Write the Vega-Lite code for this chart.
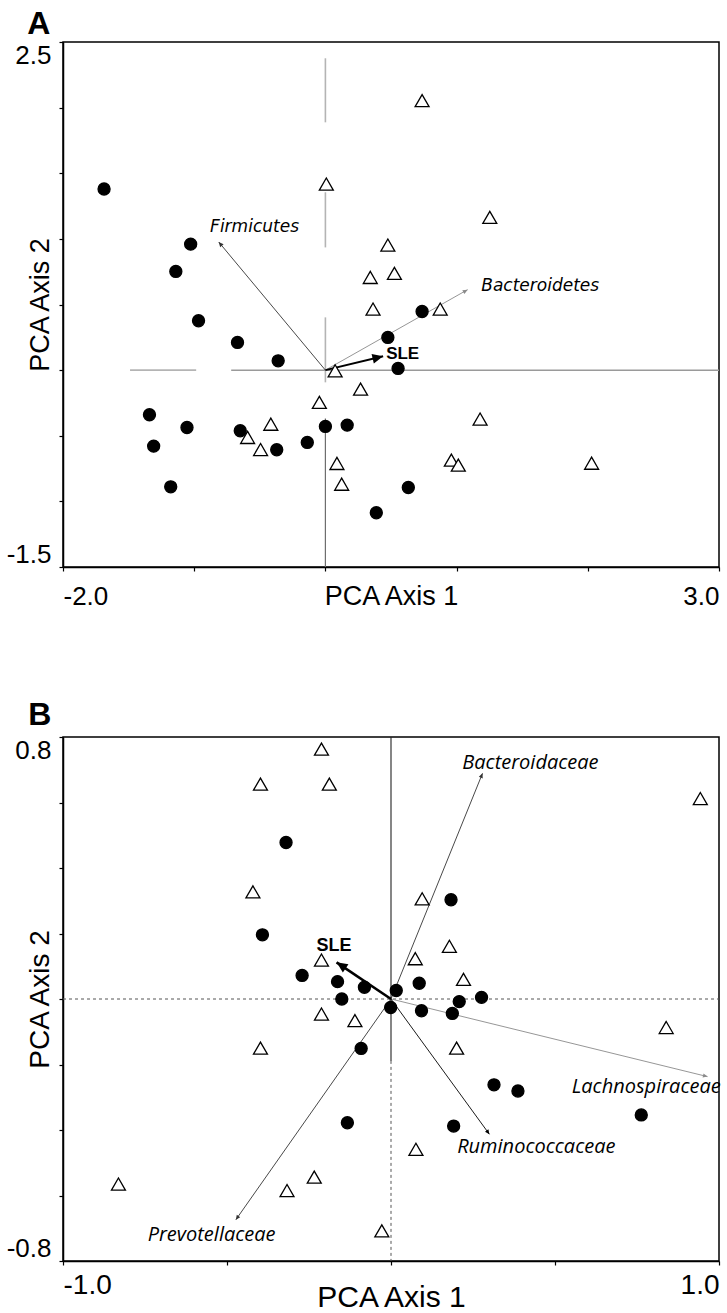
{
  "$schema": "https://vega.github.io/schema/vega-lite/v6.json",
  "padding": {"left": 5, "top": 7, "right": 4, "bottom": 2},
  "background": "white",
  "spacing": 88,
  "config": {
    "view": {"stroke": "black", "strokeWidth": 1.5},
    "axis": {"grid": false, "labelFont": "Liberation Sans", "titleFont": "Liberation Sans", "labelColor": "black", "titleColor": "black", "domainColor": "black", "tickColor": "black", "domainWidth": 1.5, "tickWidth": 1.2, "tickSize": 4, "titleFontWeight": "normal"},
    "title": {"font": "Liberation Sans", "fontWeight": "bold", "color": "black", "anchor": "start", "baseline": "alphabetic"}
  },
  "datasets": {
    "A_light": [
      {"x": 0, "y": 2.376, "x2": 0, "y2": 1.888},
      {"x": 0, "y": 1.355, "x2": 0, "y2": 0.935},
      {"x": 0, "y": 0.402, "x2": 0, "y2": -0.093},
      {"x": -1.489, "y": 0, "x2": -0.985, "y2": 0}
    ],
    "A_mid": [{"x": -0.718, "y": 0, "x2": 3, "y2": 0}],
    "A_dark": [{"x": 0, "y": -0.368, "x2": 0, "y2": -1.5}],
    "A_arrows": [
      {"name": "Firmicutes", "x": -0.813, "y": 0.976},
      {"name": "Bacteroidetes", "x": 1.084, "y": 0.613},
      {"name": "SLE", "x": 0.44, "y": 0.105}
    ],
    "A_labels": [
      {"label": "Firmicutes", "x": -0.54, "y": 1.092},
      {"label": "Bacteroidetes", "x": 1.637, "y": 0.643},
      {"label": "SLE", "x": 0.589, "y": 0.122}
    ],
    "A_points": [
      {"x": -1.687, "y": 1.380, "group": "SLE"},
      {"x": -1.027, "y": 0.960, "group": "SLE"},
      {"x": -1.140, "y": 0.752, "group": "SLE"},
      {"x": -0.967, "y": 0.376, "group": "SLE"},
      {"x": 0.737, "y": 0.447, "group": "SLE"},
      {"x": 0.476, "y": 0.249, "group": "SLE"},
      {"x": -0.670, "y": 0.211, "group": "SLE"},
      {"x": -0.360, "y": 0.071, "group": "SLE"},
      {"x": 0.554, "y": 0.013, "group": "SLE"},
      {"x": -1.341, "y": -0.340, "group": "SLE"},
      {"x": -1.055, "y": -0.437, "group": "SLE"},
      {"x": -0.649, "y": -0.462, "group": "SLE"},
      {"x": 0.0, "y": -0.429, "group": "SLE"},
      {"x": 0.166, "y": -0.419, "group": "SLE"},
      {"x": -0.138, "y": -0.551, "group": "SLE"},
      {"x": -0.371, "y": -0.607, "group": "SLE"},
      {"x": -1.309, "y": -0.579, "group": "SLE"},
      {"x": -1.179, "y": -0.889, "group": "SLE"},
      {"x": 0.632, "y": -0.894, "group": "SLE"},
      {"x": 0.388, "y": -1.087, "group": "SLE"},
      {"x": 0.737, "y": 2.053, "group": "Control"},
      {"x": 0.007, "y": 1.418, "group": "Control"},
      {"x": 1.253, "y": 1.164, "group": "Control"},
      {"x": 0.476, "y": 0.953, "group": "Control"},
      {"x": 0.342, "y": 0.706, "group": "Control"},
      {"x": 0.526, "y": 0.737, "group": "Control"},
      {"x": 0.363, "y": 0.465, "group": "Control"},
      {"x": 0.875, "y": 0.465, "group": "Control"},
      {"x": 0.074, "y": -0.005, "group": "Control"},
      {"x": 0.268, "y": -0.145, "group": "Control"},
      {"x": -0.046, "y": -0.246, "group": "Control"},
      {"x": -0.416, "y": -0.412, "group": "Control"},
      {"x": -0.593, "y": -0.513, "group": "Control"},
      {"x": -0.494, "y": -0.605, "group": "Control"},
      {"x": 1.179, "y": -0.373, "group": "Control"},
      {"x": 0.088, "y": -0.711, "group": "Control"},
      {"x": 0.124, "y": -0.869, "group": "Control"},
      {"x": 0.960, "y": -0.686, "group": "Control"},
      {"x": 1.013, "y": -0.724, "group": "Control"},
      {"x": 2.029, "y": -0.709, "group": "Control"}
    ],
    "B_solid": [{"x": 0, "y": 0.8, "x2": 0, "y2": -0.189}],
    "B_dashed": [
      {"x": 0, "y": -0.189, "x2": 0, "y2": -0.8},
      {"x": -1, "y": 0, "x2": 1, "y2": 0}
    ],
    "B_arrows": [
      {"name": "Bacteroidaceae", "x": 0.279, "y": 0.689},
      {"name": "Lachnospiraceae", "x": 0.965, "y": -0.237},
      {"name": "Ruminococcaceae", "x": 0.300, "y": -0.413},
      {"name": "Prevotellaceae", "x": -0.473, "y": -0.674},
      {"name": "SLE", "x": -0.166, "y": 0.112}
    ],
    "B_labels": [
      {"label": "Bacteroidaceae", "x": 0.425, "y": 0.720},
      {"label": "Lachnospiraceae", "x": 0.778, "y": -0.269},
      {"label": "Ruminococcaceae", "x": 0.443, "y": -0.451},
      {"label": "Prevotellaceae", "x": -0.547, "y": -0.722},
      {"label": "SLE", "x": -0.174, "y": 0.161}
    ],
    "B_points": [
      {"x": -0.320, "y": 0.478, "group": "SLE"},
      {"x": 0.183, "y": 0.303, "group": "SLE"},
      {"x": -0.392, "y": 0.196, "group": "SLE"},
      {"x": -0.271, "y": 0.072, "group": "SLE"},
      {"x": -0.163, "y": 0.053, "group": "SLE"},
      {"x": 0.086, "y": 0.048, "group": "SLE"},
      {"x": -0.081, "y": 0.036, "group": "SLE"},
      {"x": 0.016, "y": 0.026, "group": "SLE"},
      {"x": -0.150, "y": 0.0, "group": "SLE"},
      {"x": -0.001, "y": -0.026, "group": "SLE"},
      {"x": 0.093, "y": -0.036, "group": "SLE"},
      {"x": 0.208, "y": -0.008, "group": "SLE"},
      {"x": 0.276, "y": 0.005, "group": "SLE"},
      {"x": 0.187, "y": -0.044, "group": "SLE"},
      {"x": -0.091, "y": -0.151, "group": "SLE"},
      {"x": 0.314, "y": -0.262, "group": "SLE"},
      {"x": 0.387, "y": -0.281, "group": "SLE"},
      {"x": 0.763, "y": -0.354, "group": "SLE"},
      {"x": -0.133, "y": -0.378, "group": "SLE"},
      {"x": 0.191, "y": -0.388, "group": "SLE"},
      {"x": -0.212, "y": 0.763, "group": "Control"},
      {"x": -0.398, "y": 0.656, "group": "Control"},
      {"x": -0.188, "y": 0.656, "group": "Control"},
      {"x": 0.943, "y": 0.612, "group": "Control"},
      {"x": -0.421, "y": 0.327, "group": "Control"},
      {"x": 0.095, "y": 0.306, "group": "Control"},
      {"x": 0.178, "y": 0.161, "group": "Control"},
      {"x": 0.074, "y": 0.123, "group": "Control"},
      {"x": -0.212, "y": 0.119, "group": "Control"},
      {"x": 0.221, "y": 0.060, "group": "Control"},
      {"x": -0.212, "y": -0.046, "group": "Control"},
      {"x": -0.110, "y": -0.066, "group": "Control"},
      {"x": -0.398, "y": -0.150, "group": "Control"},
      {"x": 0.200, "y": -0.150, "group": "Control"},
      {"x": 0.839, "y": -0.087, "group": "Control"},
      {"x": 0.076, "y": -0.459, "group": "Control"},
      {"x": -0.234, "y": -0.544, "group": "Control"},
      {"x": -0.317, "y": -0.585, "group": "Control"},
      {"x": -0.831, "y": -0.565, "group": "Control"},
      {"x": -0.028, "y": -0.708, "group": "Control"}
    ]
  },
  "vconcat": [
    {
      "title": {"text": "A", "fontSize": 32, "offset": 0, "dx": 21},
      "width": 656,
      "height": 525,
      "encoding": {
        "x": {"field": "x", "type": "quantitative", "scale": {"domain": [-2, 3], "nice": false, "zero": false},
          "axis": {"values": [-2, -1, 0, 1, 2, 3], "labelExpr": "datum.value == -2 ? '-2.0' : (datum.value == 3 ? '3.0' : '')", "labelFlush": true, "labelFontSize": 26, "labelPadding": 12, "title": "PCA Axis 1", "titleFontSize": 27, "titlePadding": -26}},
        "y": {"field": "y", "type": "quantitative", "scale": {"domain": [-1.5, 2.5], "nice": false, "zero": false},
          "axis": {"values": [-1.5, -1, -0.5, 0, 0.5, 1, 1.5, 2, 2.5], "labelExpr": "datum.value == 2.5 ? '2.5' : (datum.value == -1.5 ? '-1.5' : '')", "labelFlush": true, "labelFontSize": 26, "labelPadding": 8, "title": "PCA Axis 2", "titleFontSize": 27, "titlePadding": -48}}
      },
      "layer": [
        {"data": {"name": "A_light"}, "mark": {"type": "rule", "color": "#b4b4b4", "strokeWidth": 1.6}, "encoding": {"x2": {"field": "x2"}, "y2": {"field": "y2"}}},
        {"data": {"name": "A_mid"}, "mark": {"type": "rule", "color": "#9a9a9a", "strokeWidth": 1.5}, "encoding": {"x2": {"field": "x2"}, "y2": {"field": "y2"}}},
        {"data": {"name": "A_dark"}, "mark": {"type": "rule", "color": "#6e6e6e", "strokeWidth": 1.2}, "encoding": {"x2": {"field": "x2"}, "y2": {"field": "y2"}}},
        {"data": {"name": "A_arrows"}, "mark": {"type": "rule"},
          "encoding": {"x2": {"datum": 0}, "y2": {"datum": 0},
            "color": {"field": "name", "type": "nominal", "scale": {"domain": ["Firmicutes", "Bacteroidetes", "SLE"], "range": ["#333333", "#8a8a8a", "#000000"]}, "legend": null},
            "strokeWidth": {"condition": {"test": "datum.name === 'SLE'", "value": 2}, "value": 0.9}}},
        {"data": {"name": "A_arrows"}, "transform": [{"calculate": "atan2(datum.x, datum.y) * 180 / PI", "as": "ang"}],
          "mark": {"type": "point", "shape": "M0,0L-0.5,1.1L0.5,1.1Z", "filled": true, "opacity": 1},
          "encoding": {"angle": {"field": "ang", "type": "quantitative", "scale": null},
            "color": {"field": "name", "type": "nominal", "scale": {"domain": ["Firmicutes", "Bacteroidetes", "SLE"], "range": ["#333333", "#8a8a8a", "#000000"]}, "legend": null},
            "size": {"condition": {"test": "datum.name === 'SLE'", "value": 380}, "value": 80}}},
        {"data": {"name": "A_points"}, "mark": {"type": "point", "filled": true, "stroke": "black", "strokeWidth": 1.3, "opacity": 1},
          "encoding": {
            "shape": {"field": "group", "type": "nominal", "scale": {"domain": ["SLE", "Control"], "range": ["circle", "triangle-up"]}, "legend": null},
            "fill": {"field": "group", "type": "nominal", "scale": {"domain": ["SLE", "Control"], "range": ["#000000", "#ffffff"]}, "legend": null},
            "size": {"field": "group", "type": "ordinal", "scale": {"domain": ["SLE", "Control"], "range": [145, 195]}, "legend": null}}},
        {"data": {"name": "A_labels"}, "transform": [{"filter": "datum.label !== 'SLE'"}],
          "mark": {"type": "text", "font": "DejaVu Sans", "fontStyle": "italic", "fontSize": 17, "color": "black", "align": "center", "baseline": "middle"},
          "encoding": {"text": {"field": "label"}}},
        {"data": {"name": "A_labels"}, "transform": [{"filter": "datum.label === 'SLE'"}],
          "mark": {"type": "text", "font": "Liberation Sans", "fontWeight": "bold", "fontSize": 17, "color": "black", "align": "center", "baseline": "middle"},
          "encoding": {"text": {"field": "label"}}}
      ]
    },
    {
      "title": {"text": "B", "fontSize": 32, "offset": 4, "dx": 22},
      "width": 656,
      "height": 524,
      "encoding": {
        "x": {"field": "x", "type": "quantitative", "scale": {"domain": [-1, 1], "nice": false, "zero": false},
          "axis": {"values": [-1, -0.5, 0, 0.5, 1], "labelExpr": "datum.value == -1 ? '-1.0' : (datum.value == 1 ? '1.0' : '')", "labelFlush": true, "labelFontSize": 28, "labelPadding": 6, "title": "PCA Axis 1", "titleFontSize": 30, "titlePadding": -17}},
        "y": {"field": "y", "type": "quantitative", "scale": {"domain": [-0.8, 0.8], "nice": false, "zero": false},
          "axis": {"values": [-0.8, -0.6, -0.4, -0.2, 0, 0.2, 0.4, 0.6, 0.8], "labelExpr": "datum.value == 0.8 ? '0.8' : (datum.value == -0.8 ? '-0.8' : '')", "labelFlush": true, "labelFontSize": 26, "labelPadding": 8, "title": "PCA Axis 2", "titleFontSize": 28, "titlePadding": -48}}
      },
      "layer": [
        {"data": {"name": "B_solid"}, "mark": {"type": "rule", "color": "#222222", "strokeWidth": 1.1}, "encoding": {"x2": {"field": "x2"}, "y2": {"field": "y2"}}},
        {"data": {"name": "B_dashed"}, "mark": {"type": "rule", "color": "#555555", "strokeWidth": 1, "strokeDash": [3, 3]}, "encoding": {"x2": {"field": "x2"}, "y2": {"field": "y2"}}},
        {"data": {"name": "B_arrows"}, "mark": {"type": "rule"},
          "encoding": {"x2": {"datum": 0}, "y2": {"datum": 0},
            "color": {"field": "name", "type": "nominal", "scale": {"domain": ["Bacteroidaceae", "Lachnospiraceae", "Ruminococcaceae", "Prevotellaceae", "SLE"], "range": ["#777777", "#777777", "#444444", "#444444", "#000000"]}, "legend": null},
            "strokeWidth": {"condition": {"test": "datum.name === 'SLE'", "value": 2.6}, "value": 0.9}}},
        {"data": {"name": "B_arrows"}, "transform": [{"calculate": "atan2(datum.x, datum.y) * 180 / PI", "as": "ang"}],
          "mark": {"type": "point", "shape": "M0,0L-0.5,1.1L0.5,1.1Z", "filled": true, "opacity": 1},
          "encoding": {"angle": {"field": "ang", "type": "quantitative", "scale": null},
            "color": {"field": "name", "type": "nominal", "scale": {"domain": ["Bacteroidaceae", "Lachnospiraceae", "Ruminococcaceae", "Prevotellaceae", "SLE"], "range": ["#777777", "#777777", "#444444", "#444444", "#000000"]}, "legend": null},
            "size": {"condition": {"test": "datum.name === 'SLE'", "value": 400}, "value": 70}}},
        {"data": {"name": "B_points"}, "mark": {"type": "point", "filled": true, "stroke": "black", "strokeWidth": 1.3, "opacity": 1},
          "encoding": {
            "shape": {"field": "group", "type": "nominal", "scale": {"domain": ["SLE", "Control"], "range": ["circle", "triangle-up"]}, "legend": null},
            "fill": {"field": "group", "type": "nominal", "scale": {"domain": ["SLE", "Control"], "range": ["#000000", "#ffffff"]}, "legend": null},
            "size": {"field": "group", "type": "ordinal", "scale": {"domain": ["SLE", "Control"], "range": [145, 195]}, "legend": null}}},
        {"data": {"name": "B_labels"}, "transform": [{"filter": "datum.label !== 'SLE'"}],
          "mark": {"type": "text", "font": "Open Sans", "fontStyle": "italic", "fontSize": 20, "color": "black", "align": "center", "baseline": "middle"},
          "encoding": {"text": {"field": "label"}}},
        {"data": {"name": "B_labels"}, "transform": [{"filter": "datum.label === 'SLE'"}],
          "mark": {"type": "text", "font": "Liberation Sans", "fontWeight": "bold", "fontSize": 18, "color": "black", "align": "center", "baseline": "middle"},
          "encoding": {"text": {"field": "label"}}}
      ]
    }
  ]
}
